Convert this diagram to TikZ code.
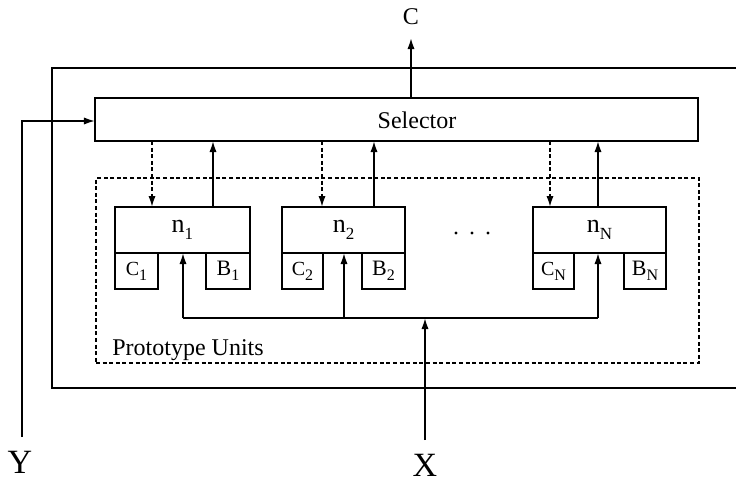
\documentclass[tikz,border=0pt]{standalone}
\usepackage{fontspec}
\setmainfont{Liberation Serif}
\usetikzlibrary{arrows.meta}
\newcommand{\mysub}[2][8.5]{\raisebox{-0.55ex}{\fontsize{#1}{#1}\selectfont #2}}
\begin{document}
\begin{tikzpicture}[x=0.5pt,y=-0.5pt,
  ln/.style={line width=0.85pt},
  arr/.style={ln,-{Latex[length=5.5pt,width=3.6pt]}},
  darr/.style={arr,dash pattern=on 2pt off 1.3pt},
  boxn/.style={draw,line width=0.85pt,anchor=north west,inner sep=0pt,outer sep=0pt},
  lbl/.style={inner sep=0pt,font=\fontsize{12}{12}\selectfont},
  big/.style={inner sep=0pt,font=\fontsize{17}{17}\selectfont}]
\useasboundingbox (0,0) rectangle (736,483);
% outer frame
\coordinate (fr1) at (736,68);
\coordinate (fr2) at (52,68);
\coordinate (fr3) at (52,388);
\coordinate (fr4) at (736,388);
\draw[ln] (fr1) -- (fr2) -- (fr3) -- (fr4);
% prototype units dashed box
\node[boxn,draw,dash pattern=on 2pt off 1.3pt,line width=0.7pt,minimum width=301.5pt,minimum height=92.5pt] (pu) at (96,178) {};
\node[lbl,anchor=base west] (pul) at (112,355) {Prototype Units};
% selector
\node[boxn,minimum width=301.5pt,minimum height=21.5pt] (sel) at (95,98) {};
\node[lbl] (selt) at (417,120) {Selector};
% unit boxes
\node[boxn,minimum width=67.5pt,minimum height=23pt] (n1) at (115,207) {};
\node[boxn,minimum width=61.5pt,minimum height=23pt] (n2) at (282,207) {};
\node[boxn,minimum width=66.5pt,minimum height=23pt] (nN) at (533,207) {};
\node[inner sep=0pt,font=\fontsize{13}{13}\selectfont] (n1t) at (n1.center) {n\mysub{1}};
\node[inner sep=0pt,font=\fontsize{13}{13}\selectfont] (n2t) at (n2.center) {n\mysub{2}};
\node[inner sep=0pt,font=\fontsize{13}{13}\selectfont] (nNt) at (nN.center) {n\mysub{N}};
% C and B boxes
\node[boxn,minimum width=21.5pt,minimum height=18pt] (c1) at (115,253) {};
\node[boxn,minimum width=22pt,minimum height=18pt] (b1) at (206,253) {};
\node[boxn,minimum width=20.5pt,minimum height=18pt] (c2) at (282,253) {};
\node[boxn,minimum width=21.5pt,minimum height=18pt] (b2) at (362,253) {};
\node[boxn,minimum width=20.5pt,minimum height=18pt] (cN) at (533,253) {};
\node[boxn,minimum width=21pt,minimum height=18pt] (bN) at (624,253) {};
\foreach \b/\s in {c1/1,c2/2,cN/N}{
  \node[inner sep=0pt] (\b t) at (\b.center) {\fontsize{10}{10}\selectfont C\mysub[8]{\s}};
}
\foreach \b/\s in {b1/1,b2/2,bN/N}{
  \node[inner sep=0pt] (\b t) at (\b.center) {\fontsize{11}{11}\selectfont B\mysub[8]{\s}};
}
% dots
\fill (456,233) circle (1.6) (472,233) circle (1.6) (488,233) circle (1.6);
% selector <-> units
\foreach \nm/\dx/\ux in {1/152/213, 2/322/374, N/550/598}{
  \draw[darr] (sel.south -| \dx,0) -- (n\nm.north -| \dx,0);
  \draw[arr] (n\nm.north -| \ux,0) -- (sel.south -| \ux,0);
}
% bus
\coordinate (bus1) at (183,318);
\coordinate (bus2) at (344,318);
\coordinate (bus3) at (598,318);
\coordinate (busx) at (425,318);
\draw[ln] (bus1) -- (bus3);
\draw[arr] (bus1) -- (n1.south -| bus1);
\draw[arr] (bus2) -- (n2.south -| bus2);
\draw[arr] (bus3) -- (nN.south -| bus3);
% X input
\node[big] (X) at (425,465) {X};
\coordinate (xs) at (425,440);
\draw[arr] (xs) -- (busx);
% Y input
\node[big] (Y) at (20,462) {Y};
\coordinate (ys) at (22,437);
\coordinate (yc) at (22,121);
\draw[arr] (ys) -- (yc) -- (sel.west |- yc);
% C output
\node[lbl] (C) at (411,17) {C};
\coordinate (cs) at (411,98);
\draw[arr] (cs) -- (411,38);
\end{tikzpicture}
\end{document}
